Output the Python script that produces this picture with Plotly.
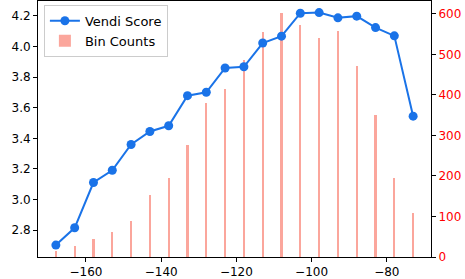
import plotly.graph_objects as go

x_vals = [-168, -163, -158, -153, -148, -143, -138, -133, -128, -123,
          -118, -113, -108, -103, -98, -93, -88, -83, -78, -73]
vendi_scores = [2.702, 2.815, 3.111, 3.191, 3.360, 3.445, 3.482, 3.679, 3.701, 3.860,
                3.868, 4.023, 4.068, 4.218, 4.222, 4.188, 4.199, 4.124, 4.070, 3.545]
bin_counts = [16, 28, 45, 62, 89, 153, 194, 276, 379, 415,
              487, 556, 602, 573, 541, 559, 472, 350, 196, 109]

blue = "#1a73e8"
bar_color = "rgba(250,128,114,0.7)"
font = dict(family="DejaVu Sans", size=12, color="black")

fig = go.Figure()
fig.add_trace(go.Scatter(
    x=x_vals, y=vendi_scores, name="Vendi Score", yaxis="y2",
    mode="lines+markers", line=dict(color=blue, width=2),
    marker=dict(color=blue, size=9),
))
fig.add_trace(go.Bar(
    x=x_vals, y=bin_counts, name="Bin Counts", yaxis="y",
    width=0.55, marker=dict(color=bar_color, line=dict(width=0)),
))

fig.update_layout(
    width=465, height=279,
    margin=dict(l=38, r=34, t=1, b=22),
    paper_bgcolor="white", plot_bgcolor="white",
    font=font,
    showlegend=True,
    legend=dict(x=0.015, y=0.985, xanchor="left", yanchor="top",
                bgcolor="rgba(255,255,255,0.8)", bordercolor="#cccccc", borderwidth=1,
                font=dict(family="DejaVu Sans", size=13, color="black"),
                itemwidth=30, tracegroupgap=0),
    xaxis=dict(range=[-172.75, -68.25], tick0=-160, dtick=20, showgrid=False,
               zeroline=False, showline=True, linecolor="black", linewidth=1,
               mirror=True, ticks="outside", ticklen=4, tickcolor="black",
               tickfont=font, automargin=False),
    yaxis=dict(side="right", range=[0, 632], dtick=100, tick0=0, showgrid=False,
               zeroline=False, showline=True, linecolor="black", linewidth=1,
               ticks="outside", ticklen=4, tickcolor="black", automargin=False,
               tickfont=dict(family="DejaVu Sans", size=12, color="red")),
    yaxis2=dict(side="left", overlaying="y", range=[2.624, 4.298], dtick=0.2, tick0=2.8,
                tickformat=".1f", showgrid=False, zeroline=False, showline=True,
                linecolor="black", linewidth=1, ticks="outside", ticklen=4,
                tickcolor="black", tickfont=font, automargin=False),
    bargap=0,
)

fig.write_html("out.html", config={"displayModeBar": False},
               post_script="document.body.style.margin='0px';document.body.style.overflow='hidden';")
